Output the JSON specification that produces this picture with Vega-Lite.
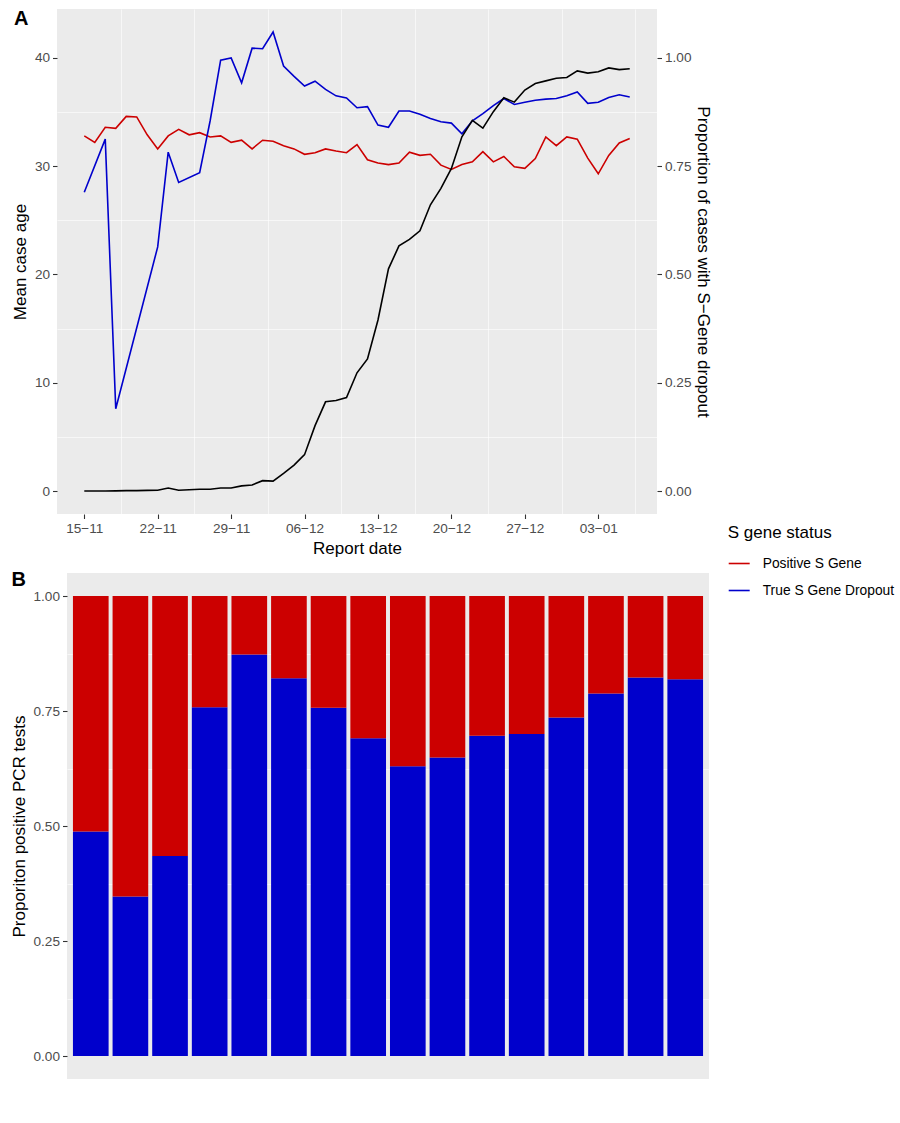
{
  "$schema": "https://vega.github.io/schema/vega-lite/v6.json",
  "background": "white",
  "padding": {"left": 9, "top": 8, "right": 0, "bottom": 5},
  "spacing": 12,
  "config": {
    "font": "Liberation Sans",
    "view": {"fill": "#EBEBEB", "stroke": null},
    "axis": {
      "domain": false,
      "grid": true,
      "gridColor": "white",
      "gridWidth": 1.3,
      "tickColor": "#333333",
      "tickSize": 4.5,
      "tickWidth": 1.1,
      "labelColor": "#4D4D4D",
      "labelFontSize": 13.6,
      "labelPadding": 3,
      "titleColor": "black",
      "titleFontSize": 17,
      "titleFontWeight": "normal",
      "titlePadding": 5
    }
  },
  "datasets": {
    "age": [
      {"date": "2020-11-15", "status": "Positive S Gene", "age": 32.8},
      {"date": "2020-11-16", "status": "Positive S Gene", "age": 32.2},
      {"date": "2020-11-17", "status": "Positive S Gene", "age": 33.6},
      {"date": "2020-11-18", "status": "Positive S Gene", "age": 33.5},
      {"date": "2020-11-19", "status": "Positive S Gene", "age": 34.6},
      {"date": "2020-11-20", "status": "Positive S Gene", "age": 34.55},
      {"date": "2020-11-21", "status": "Positive S Gene", "age": 32.9},
      {"date": "2020-11-22", "status": "Positive S Gene", "age": 31.6},
      {"date": "2020-11-23", "status": "Positive S Gene", "age": 32.8},
      {"date": "2020-11-24", "status": "Positive S Gene", "age": 33.4},
      {"date": "2020-11-25", "status": "Positive S Gene", "age": 32.9},
      {"date": "2020-11-26", "status": "Positive S Gene", "age": 33.1},
      {"date": "2020-11-27", "status": "Positive S Gene", "age": 32.7},
      {"date": "2020-11-28", "status": "Positive S Gene", "age": 32.8},
      {"date": "2020-11-29", "status": "Positive S Gene", "age": 32.2},
      {"date": "2020-11-30", "status": "Positive S Gene", "age": 32.4},
      {"date": "2020-12-01", "status": "Positive S Gene", "age": 31.6},
      {"date": "2020-12-02", "status": "Positive S Gene", "age": 32.4},
      {"date": "2020-12-03", "status": "Positive S Gene", "age": 32.3},
      {"date": "2020-12-04", "status": "Positive S Gene", "age": 31.9},
      {"date": "2020-12-05", "status": "Positive S Gene", "age": 31.6},
      {"date": "2020-12-06", "status": "Positive S Gene", "age": 31.1},
      {"date": "2020-12-07", "status": "Positive S Gene", "age": 31.25},
      {"date": "2020-12-08", "status": "Positive S Gene", "age": 31.6},
      {"date": "2020-12-09", "status": "Positive S Gene", "age": 31.4},
      {"date": "2020-12-10", "status": "Positive S Gene", "age": 31.25},
      {"date": "2020-12-11", "status": "Positive S Gene", "age": 32.0},
      {"date": "2020-12-12", "status": "Positive S Gene", "age": 30.6},
      {"date": "2020-12-13", "status": "Positive S Gene", "age": 30.3},
      {"date": "2020-12-14", "status": "Positive S Gene", "age": 30.15},
      {"date": "2020-12-15", "status": "Positive S Gene", "age": 30.3},
      {"date": "2020-12-16", "status": "Positive S Gene", "age": 31.3},
      {"date": "2020-12-17", "status": "Positive S Gene", "age": 31.0},
      {"date": "2020-12-18", "status": "Positive S Gene", "age": 31.1},
      {"date": "2020-12-19", "status": "Positive S Gene", "age": 30.1},
      {"date": "2020-12-20", "status": "Positive S Gene", "age": 29.7},
      {"date": "2020-12-21", "status": "Positive S Gene", "age": 30.15},
      {"date": "2020-12-22", "status": "Positive S Gene", "age": 30.4},
      {"date": "2020-12-23", "status": "Positive S Gene", "age": 31.35},
      {"date": "2020-12-24", "status": "Positive S Gene", "age": 30.4},
      {"date": "2020-12-25", "status": "Positive S Gene", "age": 30.9},
      {"date": "2020-12-26", "status": "Positive S Gene", "age": 29.95},
      {"date": "2020-12-27", "status": "Positive S Gene", "age": 29.8},
      {"date": "2020-12-28", "status": "Positive S Gene", "age": 30.7},
      {"date": "2020-12-29", "status": "Positive S Gene", "age": 32.7},
      {"date": "2020-12-30", "status": "Positive S Gene", "age": 31.9},
      {"date": "2020-12-31", "status": "Positive S Gene", "age": 32.7},
      {"date": "2021-01-01", "status": "Positive S Gene", "age": 32.5},
      {"date": "2021-01-02", "status": "Positive S Gene", "age": 30.75},
      {"date": "2021-01-03", "status": "Positive S Gene", "age": 29.3},
      {"date": "2021-01-04", "status": "Positive S Gene", "age": 31.0},
      {"date": "2021-01-05", "status": "Positive S Gene", "age": 32.15},
      {"date": "2021-01-06", "status": "Positive S Gene", "age": 32.55},
      {"date": "2020-11-15", "status": "True S Gene Dropout", "age": 27.6},
      {"date": "2020-11-17", "status": "True S Gene Dropout", "age": 32.5},
      {"date": "2020-11-18", "status": "True S Gene Dropout", "age": 7.6},
      {"date": "2020-11-22", "status": "True S Gene Dropout", "age": 22.55},
      {"date": "2020-11-23", "status": "True S Gene Dropout", "age": 31.3},
      {"date": "2020-11-24", "status": "True S Gene Dropout", "age": 28.5},
      {"date": "2020-11-26", "status": "True S Gene Dropout", "age": 29.4},
      {"date": "2020-11-27", "status": "True S Gene Dropout", "age": 34.2},
      {"date": "2020-11-28", "status": "True S Gene Dropout", "age": 39.8},
      {"date": "2020-11-29", "status": "True S Gene Dropout", "age": 40.0},
      {"date": "2020-11-30", "status": "True S Gene Dropout", "age": 37.7},
      {"date": "2020-12-01", "status": "True S Gene Dropout", "age": 40.9},
      {"date": "2020-12-02", "status": "True S Gene Dropout", "age": 40.85},
      {"date": "2020-12-03", "status": "True S Gene Dropout", "age": 42.4},
      {"date": "2020-12-04", "status": "True S Gene Dropout", "age": 39.25},
      {"date": "2020-12-05", "status": "True S Gene Dropout", "age": 38.3},
      {"date": "2020-12-06", "status": "True S Gene Dropout", "age": 37.4},
      {"date": "2020-12-07", "status": "True S Gene Dropout", "age": 37.85},
      {"date": "2020-12-08", "status": "True S Gene Dropout", "age": 37.1},
      {"date": "2020-12-09", "status": "True S Gene Dropout", "age": 36.5},
      {"date": "2020-12-10", "status": "True S Gene Dropout", "age": 36.3},
      {"date": "2020-12-11", "status": "True S Gene Dropout", "age": 35.4},
      {"date": "2020-12-12", "status": "True S Gene Dropout", "age": 35.5},
      {"date": "2020-12-13", "status": "True S Gene Dropout", "age": 33.8},
      {"date": "2020-12-14", "status": "True S Gene Dropout", "age": 33.6},
      {"date": "2020-12-15", "status": "True S Gene Dropout", "age": 35.1},
      {"date": "2020-12-16", "status": "True S Gene Dropout", "age": 35.1},
      {"date": "2020-12-17", "status": "True S Gene Dropout", "age": 34.8},
      {"date": "2020-12-18", "status": "True S Gene Dropout", "age": 34.4},
      {"date": "2020-12-19", "status": "True S Gene Dropout", "age": 34.1},
      {"date": "2020-12-20", "status": "True S Gene Dropout", "age": 33.98},
      {"date": "2020-12-21", "status": "True S Gene Dropout", "age": 33.0},
      {"date": "2020-12-22", "status": "True S Gene Dropout", "age": 34.2},
      {"date": "2020-12-23", "status": "True S Gene Dropout", "age": 34.85},
      {"date": "2020-12-24", "status": "True S Gene Dropout", "age": 35.6},
      {"date": "2020-12-25", "status": "True S Gene Dropout", "age": 36.25},
      {"date": "2020-12-26", "status": "True S Gene Dropout", "age": 35.7},
      {"date": "2020-12-27", "status": "True S Gene Dropout", "age": 35.9},
      {"date": "2020-12-28", "status": "True S Gene Dropout", "age": 36.1},
      {"date": "2020-12-29", "status": "True S Gene Dropout", "age": 36.2},
      {"date": "2020-12-30", "status": "True S Gene Dropout", "age": 36.25},
      {"date": "2020-12-31", "status": "True S Gene Dropout", "age": 36.5},
      {"date": "2021-01-01", "status": "True S Gene Dropout", "age": 36.85},
      {"date": "2021-01-02", "status": "True S Gene Dropout", "age": 35.8},
      {"date": "2021-01-03", "status": "True S Gene Dropout", "age": 35.9},
      {"date": "2021-01-04", "status": "True S Gene Dropout", "age": 36.35},
      {"date": "2021-01-05", "status": "True S Gene Dropout", "age": 36.6},
      {"date": "2021-01-06", "status": "True S Gene Dropout", "age": 36.4}
    ],
    "dropout": [
      {"date": "2020-11-15", "prop": 0.0},
      {"date": "2020-11-16", "prop": 0.0},
      {"date": "2020-11-17", "prop": 0.0},
      {"date": "2020-11-18", "prop": 0.0005},
      {"date": "2020-11-19", "prop": 0.001},
      {"date": "2020-11-20", "prop": 0.001},
      {"date": "2020-11-21", "prop": 0.0015},
      {"date": "2020-11-22", "prop": 0.002},
      {"date": "2020-11-23", "prop": 0.007},
      {"date": "2020-11-24", "prop": 0.002},
      {"date": "2020-11-25", "prop": 0.003},
      {"date": "2020-11-26", "prop": 0.004},
      {"date": "2020-11-27", "prop": 0.004},
      {"date": "2020-11-28", "prop": 0.007},
      {"date": "2020-11-29", "prop": 0.007},
      {"date": "2020-11-30", "prop": 0.012},
      {"date": "2020-12-01", "prop": 0.014},
      {"date": "2020-12-02", "prop": 0.024},
      {"date": "2020-12-03", "prop": 0.023},
      {"date": "2020-12-04", "prop": 0.041},
      {"date": "2020-12-05", "prop": 0.06},
      {"date": "2020-12-06", "prop": 0.084},
      {"date": "2020-12-07", "prop": 0.151},
      {"date": "2020-12-08", "prop": 0.206},
      {"date": "2020-12-09", "prop": 0.209},
      {"date": "2020-12-10", "prop": 0.216},
      {"date": "2020-12-11", "prop": 0.273},
      {"date": "2020-12-12", "prop": 0.305},
      {"date": "2020-12-13", "prop": 0.395},
      {"date": "2020-12-14", "prop": 0.513},
      {"date": "2020-12-15", "prop": 0.566},
      {"date": "2020-12-16", "prop": 0.581},
      {"date": "2020-12-17", "prop": 0.601},
      {"date": "2020-12-18", "prop": 0.661},
      {"date": "2020-12-19", "prop": 0.699},
      {"date": "2020-12-20", "prop": 0.745},
      {"date": "2020-12-21", "prop": 0.818},
      {"date": "2020-12-22", "prop": 0.856},
      {"date": "2020-12-23", "prop": 0.838},
      {"date": "2020-12-24", "prop": 0.876},
      {"date": "2020-12-25", "prop": 0.908},
      {"date": "2020-12-26", "prop": 0.898},
      {"date": "2020-12-27", "prop": 0.926},
      {"date": "2020-12-28", "prop": 0.941},
      {"date": "2020-12-29", "prop": 0.947},
      {"date": "2020-12-30", "prop": 0.953},
      {"date": "2020-12-31", "prop": 0.955},
      {"date": "2021-01-01", "prop": 0.97},
      {"date": "2021-01-02", "prop": 0.965},
      {"date": "2021-01-03", "prop": 0.968},
      {"date": "2021-01-04", "prop": 0.977},
      {"date": "2021-01-05", "prop": 0.973},
      {"date": "2021-01-06", "prop": 0.975}
    ],
    "bars": [
      {"age": "0-4", "status": "True S Gene Dropout", "share": 0.488},
      {"age": "0-4", "status": "Positive S Gene", "share": 0.512},
      {"age": "5-9", "status": "True S Gene Dropout", "share": 0.347},
      {"age": "5-9", "status": "Positive S Gene", "share": 0.653},
      {"age": "10-14", "status": "True S Gene Dropout", "share": 0.435},
      {"age": "10-14", "status": "Positive S Gene", "share": 0.565},
      {"age": "15-19", "status": "True S Gene Dropout", "share": 0.758},
      {"age": "15-19", "status": "Positive S Gene", "share": 0.242},
      {"age": "20-24", "status": "True S Gene Dropout", "share": 0.873},
      {"age": "20-24", "status": "Positive S Gene", "share": 0.127},
      {"age": "25-29", "status": "True S Gene Dropout", "share": 0.821},
      {"age": "25-29", "status": "Positive S Gene", "share": 0.179},
      {"age": "30-34", "status": "True S Gene Dropout", "share": 0.757},
      {"age": "30-34", "status": "Positive S Gene", "share": 0.243},
      {"age": "35-39", "status": "True S Gene Dropout", "share": 0.691},
      {"age": "35-39", "status": "Positive S Gene", "share": 0.309},
      {"age": "40-44", "status": "True S Gene Dropout", "share": 0.63},
      {"age": "40-44", "status": "Positive S Gene", "share": 0.37},
      {"age": "45-49", "status": "True S Gene Dropout", "share": 0.649},
      {"age": "45-49", "status": "Positive S Gene", "share": 0.351},
      {"age": "50-54", "status": "True S Gene Dropout", "share": 0.696},
      {"age": "50-54", "status": "Positive S Gene", "share": 0.304},
      {"age": "55-59", "status": "True S Gene Dropout", "share": 0.7},
      {"age": "55-59", "status": "Positive S Gene", "share": 0.3},
      {"age": "60-64", "status": "True S Gene Dropout", "share": 0.736},
      {"age": "60-64", "status": "Positive S Gene", "share": 0.264},
      {"age": "65-69", "status": "True S Gene Dropout", "share": 0.788},
      {"age": "65-69", "status": "Positive S Gene", "share": 0.212},
      {"age": "70-74", "status": "True S Gene Dropout", "share": 0.823},
      {"age": "70-74", "status": "Positive S Gene", "share": 0.177},
      {"age": "75+", "status": "True S Gene Dropout", "share": 0.819},
      {"age": "75+", "status": "Positive S Gene", "share": 0.181}
    ]
  },
  "vconcat": [
    {
      "spacing": 0,
      "hconcat": [
        {
          "width": 2, "height": 1,
          "view": {"fill": null, "stroke": null},
          "data": {"values": []},
          "mark": {"type": "point", "opacity": 0}
        },
        {
          "width": 600,
          "height": 505,
          "layer": [
            {
              "data": {"name": "age"},
              "mark": {"type": "point", "opacity": 0},
              "encoding": {
                "x": {
                  "field": "date", "type": "temporal",
                  "scale": {"type": "utc", "domain": [{"year": 2020, "month": "nov", "date": 12, "hours": 9, "minutes": 36, "utc": true}, {"year": 2021, "month": "jan", "date": 8, "hours": 14, "minutes": 24, "utc": true}]},
                  "axis": {
                    "orient": "bottom", "grid": true, "gridWidth": 0.6, "labels": false, "ticks": false, "domain": false, "title": null,
                    "values": [
                      {"year": 2020, "month": "nov", "date": 18, "hours": 12, "utc": true},
                      {"year": 2020, "month": "nov", "date": 25, "hours": 12, "utc": true},
                      {"year": 2020, "month": "dec", "date": 2, "hours": 12, "utc": true},
                      {"year": 2020, "month": "dec", "date": 9, "hours": 12, "utc": true},
                      {"year": 2020, "month": "dec", "date": 16, "hours": 12, "utc": true},
                      {"year": 2020, "month": "dec", "date": 23, "hours": 12, "utc": true},
                      {"year": 2020, "month": "dec", "date": 30, "hours": 12, "utc": true},
                      {"year": 2021, "month": "jan", "date": 6, "hours": 12, "utc": true}
                    ]
                  }
                },
                "y": {
                  "field": "age", "type": "quantitative",
                  "scale": {"domain": [-2.12, 44.52], "nice": false, "zero": false},
                  "axis": {
                    "orient": "left", "values": [5, 15, 25, 35], "grid": true, "gridWidth": 0.6, "labels": false, "ticks": false, "domain": false,
                    "title": "A", "titleAngle": 0, "titleX": -43.5, "titleY": -1, "titleAlign": "left", "titleBaseline": "top",
                    "titleFontSize": 20, "titleFontWeight": "bold", "titleColor": "black"
                  }
                }
              }
            },
            {
              "data": {"name": "age"},
              "mark": {"type": "line", "strokeWidth": 1.6},
              "encoding": {
                "x": {
                  "field": "date", "type": "temporal",
                  "scale": {"type": "utc", "domain": [{"year": 2020, "month": "nov", "date": 12, "hours": 9, "minutes": 36, "utc": true}, {"year": 2021, "month": "jan", "date": 8, "hours": 14, "minutes": 24, "utc": true}]},
                  "axis": {
                    "orient": "bottom", "title": "Report date", "labelExpr": "utcFormat(datum.value, '%d−%m')", "labelFlush": false, "labelOverlap": false,
                    "values": [
                      {"year": 2020, "month": "nov", "date": 15, "utc": true},
                      {"year": 2020, "month": "nov", "date": 22, "utc": true},
                      {"year": 2020, "month": "nov", "date": 29, "utc": true},
                      {"year": 2020, "month": "dec", "date": 6, "utc": true},
                      {"year": 2020, "month": "dec", "date": 13, "utc": true},
                      {"year": 2020, "month": "dec", "date": 20, "utc": true},
                      {"year": 2020, "month": "dec", "date": 27, "utc": true},
                      {"year": 2021, "month": "jan", "date": 3, "utc": true}
                    ]
                  }
                },
                "y": {
                  "field": "age", "type": "quantitative",
                  "scale": {"domain": [-2.12, 44.52], "nice": false, "zero": false},
                  "axis": {"orient": "left", "values": [0, 10, 20, 30, 40], "title": "Mean case age"}
                },
                "color": {
                  "field": "status", "type": "nominal",
                  "scale": {"domain": ["Positive S Gene", "True S Gene Dropout"], "range": ["#CC0000", "#0000CC"]},
                  "legend": {
                    "title": "S gene status", "orient": "none", "legendX": 718.7, "legendY": 516,
                    "symbolType": "stroke", "symbolSize": 440, "symbolStrokeWidth": 1.6,
                    "titleFontSize": 17, "titleFontWeight": "normal", "titleColor": "black",
                    "labelFontSize": 13.8, "labelColor": "black", "labelOffset": 12,
                    "rowPadding": 8, "titlePadding": 10, "padding": 0
                  }
                }
              }
            },
            {
              "data": {"name": "dropout"},
              "mark": {"type": "line", "color": "black", "strokeWidth": 1.6},
              "encoding": {
                "x": {
                  "field": "date", "type": "temporal",
                  "scale": {"type": "utc", "domain": [{"year": 2020, "month": "nov", "date": 12, "hours": 9, "minutes": 36, "utc": true}, {"year": 2021, "month": "jan", "date": 8, "hours": 14, "minutes": 24, "utc": true}]},
                  "axis": null
                },
                "y": {
                  "field": "prop", "type": "quantitative",
                  "scale": {"domain": [-0.053, 1.113], "nice": false, "zero": false},
                  "axis": {"orient": "right", "values": [0, 0.25, 0.5, 0.75, 1], "format": ".2f", "grid": false, "titlePadding": 3, "title": "Proportion of cases with S−Gene dropout"}
                }
              }
            }
          ],
          "resolve": {"scale": {"y": "independent"}, "axis": {"x": "independent", "y": "independent"}}
        }
      ]
    },
    {
      "spacing": 0,
      "hconcat": [
        {
          "width": 1, "height": 1,
          "view": {"fill": null, "stroke": null},
          "data": {"values": []},
          "mark": {"type": "point", "opacity": 0}
        },
        {
          "width": 642,
          "height": 506,
          "data": {"name": "bars"},
          "layer": [
            {
              "mark": {"type": "bar", "opacity": 0},
              "encoding": {
                "x": {"field": "age", "type": "nominal", "sort": null, "scale": {"paddingInner": 0.1, "paddingOuter": 0.15}, "axis": null},
                "y": {
                  "field": "share", "type": "quantitative", "stack": null,
                  "scale": {"domain": [-0.05, 1.05], "nice": false, "zero": false},
                  "axis": {
                    "orient": "left", "values": [0.125, 0.375, 0.625, 0.875], "grid": true, "gridWidth": 0.6, "labels": false, "ticks": false, "domain": false,
                    "title": "B", "titleAngle": 0, "titleX": -56, "titleY": -4, "titleAlign": "left", "titleBaseline": "top",
                    "titleFontSize": 20, "titleFontWeight": "bold", "titleColor": "black"
                  }
                }
              }
            },
            {
              "mark": {"type": "bar"},
              "encoding": {
                "x": {
                  "field": "age", "type": "nominal", "sort": null,
                  "scale": {"paddingInner": 0.1, "paddingOuter": 0.15},
                  "axis": {"title": "Age range", "labelAngle": 0, "bandPosition": 0.5, "grid": true, "labelOverlap": false, "labelExpr": "replace(datum.label, '-', '−')"}
                },
                "y": {
                  "field": "share", "type": "quantitative", "stack": "zero",
                  "scale": {"domain": [-0.05, 1.05], "nice": false, "zero": false},
                  "axis": {"orient": "left", "values": [0, 0.25, 0.5, 0.75, 1], "format": ".2f", "title": "Proporiton positive PCR tests"}
                },
                "color": {
                  "field": "status", "type": "nominal",
                  "scale": {"domain": ["Positive S Gene", "True S Gene Dropout"], "range": ["#CC0000", "#0000CC"]},
                  "legend": null
                },
                "order": {"field": "status", "sort": "descending"}
              }
            }
          ],
          "resolve": {"axis": {"y": "independent"}}
        }
      ]
    }
  ]
}
